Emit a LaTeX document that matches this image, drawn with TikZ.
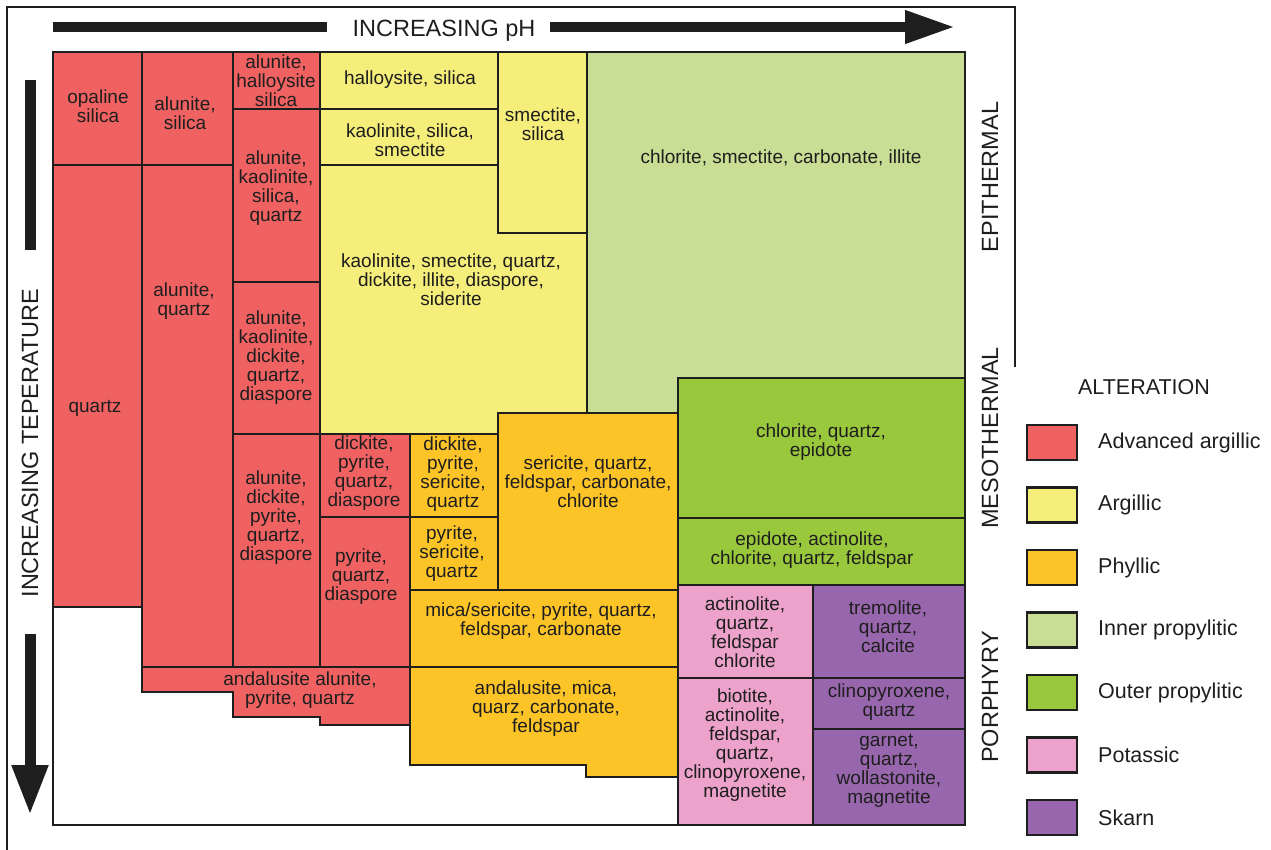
\documentclass[tikz,border=0pt]{standalone}
\usepackage{fontspec}
\setmainfont{Liberation Sans}
\usetikzlibrary{arrows.meta}

\definecolor{advarg}{RGB}{240,98,98}
\definecolor{argil}{RGB}{246,238,122}
\definecolor{phyl}{RGB}{253,196,40}
\definecolor{innerprop}{RGB}{200,222,148}
\definecolor{outerprop}{RGB}{154,200,60}
\definecolor{potas}{RGB}{236,162,202}
\definecolor{skarn}{RGB}{152,102,172}
\definecolor{edge}{RGB}{30,30,30}

\begin{document}
\begin{tikzpicture}[x=1pt, y=-1pt,
    zone/.style={draw=edge, line width=2pt},
    cell/.style={align=center, inner sep=0pt, text=edge, font=\fontsize{19}{19}\selectfont},
    axislabel/.style={inner sep=0pt, text=edge, font=\fontsize{23.5}{24}\selectfont},
    legendtext/.style={anchor=west, inner sep=0pt, text=edge, font=\fontsize{21.5}{22}\selectfont}]
    \useasboundingbox (0,0) rectangle (1271,850);

    % Outer frame
    \draw[edge, line width=1.5pt] (7,850) -- (7,7) -- (1015,7) -- (1015,367);

    % pH axis
    \draw[edge, line width=10pt] (53,27) -- (327,27);
    \node[axislabel] (ph) at (444,31) {INCREASING pH};
    \draw[edge, line width=10pt, -{Triangle[length=50pt,width=31pt]}] (550,27) -- (955,27);

    % Temperature axis
    \draw[edge, line width=11pt] (30,80) -- (30,250);
    \node[axislabel, rotate=90] (temp) at (30,443) {INCREASING TEPERATURE};
    \draw[edge, line width=11pt, -{Triangle[length=50pt,width=34pt]}] (30,634) -- (30,815);

    % Advanced argillic
    \filldraw[zone, fill=advarg] (53,52) rectangle (142,165);
    \filldraw[zone, fill=advarg] (142,52) rectangle (233,165);
    \filldraw[zone, fill=advarg] (53,165) rectangle (142,607);
    \filldraw[zone, fill=advarg] (142,165) rectangle (233,667);
    \filldraw[zone, fill=advarg] (233,52) rectangle (320,109);
    \filldraw[zone, fill=advarg] (233,109) rectangle (320,282);
    \filldraw[zone, fill=advarg] (233,282) rectangle (320,434);
    \filldraw[zone, fill=advarg] (233,434) rectangle (320,667);
    \filldraw[zone, fill=advarg] (320,434) rectangle (410,517);
    \filldraw[zone, fill=advarg] (320,517) rectangle (410,667);
    \filldraw[zone, fill=advarg] (142,667) -- (410,667) -- (410,725) -- (320,725)
        -- (320,717) -- (233,717) -- (233,692) -- (142,692) -- cycle;

    % Argillic
    \filldraw[zone, fill=argil] (320,52) rectangle (498,109);
    \filldraw[zone, fill=argil] (320,109) rectangle (498,165);
    \filldraw[zone, fill=argil] (498,52) rectangle (587,233);
    \filldraw[zone, fill=argil] (320,165) -- (498,165) -- (498,233) -- (587,233)
        -- (587,413) -- (498,413) -- (498,434) -- (320,434) -- cycle;

    % Inner propylitic
    \filldraw[zone, fill=innerprop] (587,52) -- (965,52) -- (965,378) -- (678,378)
        -- (678,413) -- (587,413) -- cycle;

    % Outer propylitic
    \filldraw[zone, fill=outerprop] (678,378) rectangle (965,518);
    \filldraw[zone, fill=outerprop] (678,518) rectangle (965,585);

    % Phyllic
    \filldraw[zone, fill=phyl] (410,434) rectangle (498,517);
    \filldraw[zone, fill=phyl] (410,517) rectangle (498,590);
    \filldraw[zone, fill=phyl] (498,413) rectangle (678,590);
    \filldraw[zone, fill=phyl] (410,590) rectangle (678,667);
    \filldraw[zone, fill=phyl] (410,667) -- (678,667) -- (678,777) -- (586,777)
        -- (586,765) -- (410,765) -- cycle;

    % Potassic and skarn
    \filldraw[zone, fill=potas] (678,585) rectangle (813,678);
    \filldraw[zone, fill=potas] (678,678) rectangle (813,825);
    \filldraw[zone, fill=skarn] (813,585) rectangle (965,678);
    \filldraw[zone, fill=skarn] (813,678) rectangle (965,729);
    \filldraw[zone, fill=skarn] (813,729) rectangle (965,825);

    % Chart border
    \draw[zone] (53,52) rectangle (965,825);

    % Mineral assemblages
    \node[cell] (opal) at (98,106) {opaline\\silica};
    \node[cell] (alsil) at (185,113) {alunite,\\silica};
    \node[cell] (quartz) at (95,408) {quartz};
    \node[cell] (alqtz) at (184,301) {alunite,\\quartz};
    \node[cell] (alhal) at (276,81) {alunite,\\halloysite\\silica};
    \node[cell] (alkao) at (276,188) {alunite,\\kaolinite,\\silica,\\quartz};
    \node[cell] (alkaodk) at (276,358) {alunite,\\kaolinite,\\dickite,\\quartz,\\diaspore};
    \node[cell] (aldk) at (276,518) {alunite,\\dickite,\\pyrite,\\quartz,\\diaspore};
    \node[cell] (dkpy) at (364,473) {dickite,\\pyrite,\\quartz,\\diaspore};
    \node[cell] (pyqtz) at (361,577) {pyrite,\\quartz,\\diaspore};
    \node[cell] (andal) at (300,690) {andalusite alunite,\\pyrite, quartz};
    \node[cell] (hal) at (410,80) {halloysite, silica};
    \node[cell] (kaosil) at (410,140) {kaolinite, silica,\\smectite};
    \node[cell] (smec) at (543,124) {smectite,\\silica};
    \node[cell] (kaosmec) at (451,280) {kaolinite, smectite, quartz,\\dickite, illite, diaspore,\\siderite};
    \node[cell] (chlsmec) at (781,158) {chlorite, smectite, carbonate, illite};
    \node[cell] (dkser) at (453,474) {dickite,\\pyrite,\\sericite,\\quartz};
    \node[cell] (pyser) at (452,554) {pyrite,\\sericite,\\quartz};
    \node[cell] (serqtz) at (588,482) {sericite, quartz,\\feldspar, carbonate,\\chlorite};
    \node[cell] (mica) at (541,621) {mica/sericite, pyrite, quartz,\\feldspar, carbonate};
    \node[cell] (andmica) at (546,709) {andalusite, mica,\\quarz, carbonate,\\feldspar};
    \node[cell] (chlqtz) at (821,442) {chlorite, quartz,\\epidote};
    \node[cell] (epact) at (812,550) {epidote, actinolite,\\chlorite, quartz, feldspar};
    \node[cell] (actqtz) at (745,632) {actinolite,\\quartz,\\feldspar\\chlorite};
    \node[cell] (biot) at (745,745) {biotite,\\actinolite,\\feldspar,\\quartz,\\clinopyroxene,\\magnetite};
    \node[cell] (trem) at (888,627) {tremolite,\\quartz,\\calcite};
    \node[cell] (cpx) at (889,702) {clinopyroxene,\\quartz};
    \node[cell] (garn) at (889,771) {garnet,\\quartz,\\wollastonite,\\magnetite};

    % Deposit settings
    \node[axislabel, rotate=90] (epi) at (990,177) {EPITHERMAL};
    \node[axislabel, rotate=90] (meso) at (990,438) {MESOTHERMAL};
    \node[axislabel, rotate=90] (porph) at (990,697) {PORPHYRY};

    % Legend
    \node[axislabel, font=\fontsize{21.5}{22}\selectfont] (alt) at (1144,387) {ALTERATION};
    \foreach \col/\name [count=\i from 0] in {advarg/Advanced argillic, argil/Argillic,
        phyl/Phyllic, innerprop/Inner propylitic, outerprop/Outer propylitic,
        potas/Potassic, skarn/Skarn} {
        \filldraw[fill=\col, draw=edge, line width=2.5pt] (1027,{425+62.5*\i}) rectangle ++(50,35);
        \node[legendtext] (leg\i) at (1098,{442.5+62.5*\i}) {\name};
    }
\end{tikzpicture}
\end{document}
